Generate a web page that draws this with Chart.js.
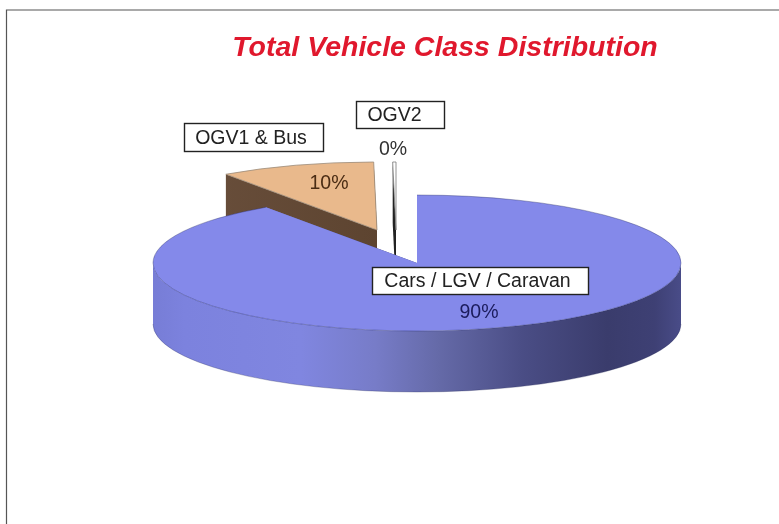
<!DOCTYPE html>
<html>
<head>
<meta charset="utf-8">
<style>
html,body{margin:0;padding:0;background:#fff;overflow:hidden}
canvas{display:block}
</style>
<script src="https://cdn.jsdelivr.net/npm/chart.js@4/dist/chart.umd.min.js"></script>
</head>
<body>
<canvas id="c" width="779" height="524"></canvas>
<script>
// DATA
const categories = ["Cars / LGV / Caravan", "OGV1 & Bus", "OGV2"];
const shares = [90.3, 9.5, 0.2];
const percentLabels = ["90%", "10%", "0%"];
const chartTitle = "Total Vehicle Class Distribution";

// STYLE
const topColors = ["#8489ea", "#e9b98c", "#ffffff"];
const edgeColors = ["rgba(35,38,94,0.45)", "#9a8a78", "#777777"];
const explode = [[0, 0], [-40, -33], [-21, -33]];
const pie = {cx: 417, cy: 263, rx: 264, ry: 68, depth: 61};
const labelBoxes = [
  {box: [372, 267, 217, 28], pct: [479, 313], color: "#1b1c5c", shift: -3},
  {box: [184, 123, 140, 29], pct: [329, 184], color: "#4a2c14", shift: -3},
  {box: [356, 101, 89, 28], pct: [393, 150], color: "#333333", shift: -6}
];
const font = '"Liberation Sans", Arial, sans-serif';

function wallFill(ctx, i, x0, x1) {
  const g = ctx.createLinearGradient(x0, 0, x1, 0);
  if (i === 0) {
    g.addColorStop(0, "#777dd6");
    g.addColorStop(0.06, "#7c82de");
    g.addColorStop(0.28, "#8086e0");
    g.addColorStop(0.42, "#777cc8");
    g.addColorStop(0.54, "#656aa8");
    g.addColorStop(0.7, "#4a4d85");
    g.addColorStop(0.86, "#3a3c6c");
    g.addColorStop(0.95, "#3e4074");
    g.addColorStop(1, "#494c88");
  } else if (i === 1) {
    g.addColorStop(0, "#6e5340");
    g.addColorStop(1, "#5d4430");
  } else {
    g.addColorStop(0, "#444444");
    g.addColorStop(1, "#222222");
  }
  return g;
}

const pie3d = {
  id: "pie3d",
  beforeDatasetDraw(chart, args) {
    const ctx = chart.ctx;
    const arcs = chart.getDatasetMeta(args.index).data;
    [1, 2, 0].forEach(i => {
      const a = arcs[i];
      const ox = pie.cx + explode[i][0], oy = pie.cy + explode[i][1];
      const pt = t => [ox + pie.rx * Math.cos(t), oy + pie.ry * Math.sin(t)];
      // radial walls
      ctx.fillStyle = wallFill(ctx, i, ox - pie.rx, ox);
      [a.startAngle, a.endAngle].forEach(t => {
        const p = pt(t);
        ctx.beginPath();
        ctx.moveTo(ox, oy);
        ctx.lineTo(p[0], p[1]);
        ctx.lineTo(p[0], p[1] + pie.depth);
        ctx.lineTo(ox, oy + pie.depth);
        ctx.closePath();
        ctx.fill();
      });
      // front rim
      if (i === 0) {
        ctx.fillStyle = wallFill(ctx, 0, pie.cx - pie.rx, pie.cx + pie.rx);
        ctx.beginPath();
        ctx.ellipse(ox, oy, pie.rx, pie.ry, 0, 0, Math.PI);
        ctx.lineTo(ox - pie.rx, oy + pie.depth);
        ctx.ellipse(ox, oy + pie.depth, pie.rx, pie.ry, 0, Math.PI, 0, true);
        ctx.closePath();
        ctx.fill();
        ctx.strokeStyle = "rgba(30,32,80,0.35)";
        ctx.lineWidth = 0.8;
        ctx.beginPath();
        ctx.ellipse(ox, oy + pie.depth, pie.rx, pie.ry, 0, Math.PI, 0, true);
        ctx.stroke();
      }
      // top face: the library's own arc element, remapped onto the ellipse
      ctx.save();
      ctx.translate(ox, oy);
      ctx.scale(pie.rx / a.outerRadius, pie.ry / a.outerRadius);
      ctx.translate(-a.x, -a.y);
      a.draw(ctx);
      ctx.restore();
      // outline
      ctx.strokeStyle = edgeColors[i];
      ctx.lineWidth = 0.8;
      ctx.beginPath();
      if (i !== 0) ctx.moveTo(ox, oy);
      ctx.ellipse(ox, oy, pie.rx, pie.ry, 0, a.startAngle, a.endAngle);
      if (i !== 0) ctx.closePath();
      ctx.stroke();
    });
    return false;
  },
  afterDraw(chart) {
    const ctx = chart.ctx;
    // frame
    ctx.strokeStyle = "#555555";
    ctx.lineWidth = 1.2;
    ctx.beginPath();
    ctx.moveTo(6.5, 524);
    ctx.lineTo(6.5, 10);
    ctx.lineTo(779, 10);
    ctx.stroke();
    // labels
    ctx.textBaseline = "middle";
    ctx.textAlign = "center";
    ctx.font = "19.5px " + font;
    categories.forEach((name, i) => {
      const l = labelBoxes[i];
      const [x, y, w, h] = l.box;
      ctx.fillStyle = "#ffffff";
      ctx.fillRect(x, y, w, h);
      ctx.strokeStyle = "#222222";
      ctx.lineWidth = 1.4;
      ctx.strokeRect(x + 0.5, y + 0.5, w - 1, h - 1);
      ctx.fillStyle = "#222222";
      ctx.fillText(name, x + w / 2 + l.shift, y + h / 2 + 1);
      ctx.fillStyle = l.color;
      ctx.fillText(percentLabels[i], l.pct[0], l.pct[1]);
    });
  }
};

new Chart(document.getElementById("c"), {
  type: "pie",
  data: {
    labels: categories,
    datasets: [{data: shares, backgroundColor: topColors, borderWidth: 0}]
  },
  options: {
    responsive: false,
    animation: false,
    layout: {padding: {left: 111}},
    plugins: {
      legend: {display: false},
      tooltip: {enabled: false},
      title: {
        display: true,
        text: chartTitle,
        fullSize: false,
        color: "#e0182d",
        font: {family: font, size: 28.5, weight: "bold", style: "italic"},
        padding: {top: 31, bottom: 10}
      }
    }
  },
  plugins: [pie3d]
});
</script>
</body>
</html>
